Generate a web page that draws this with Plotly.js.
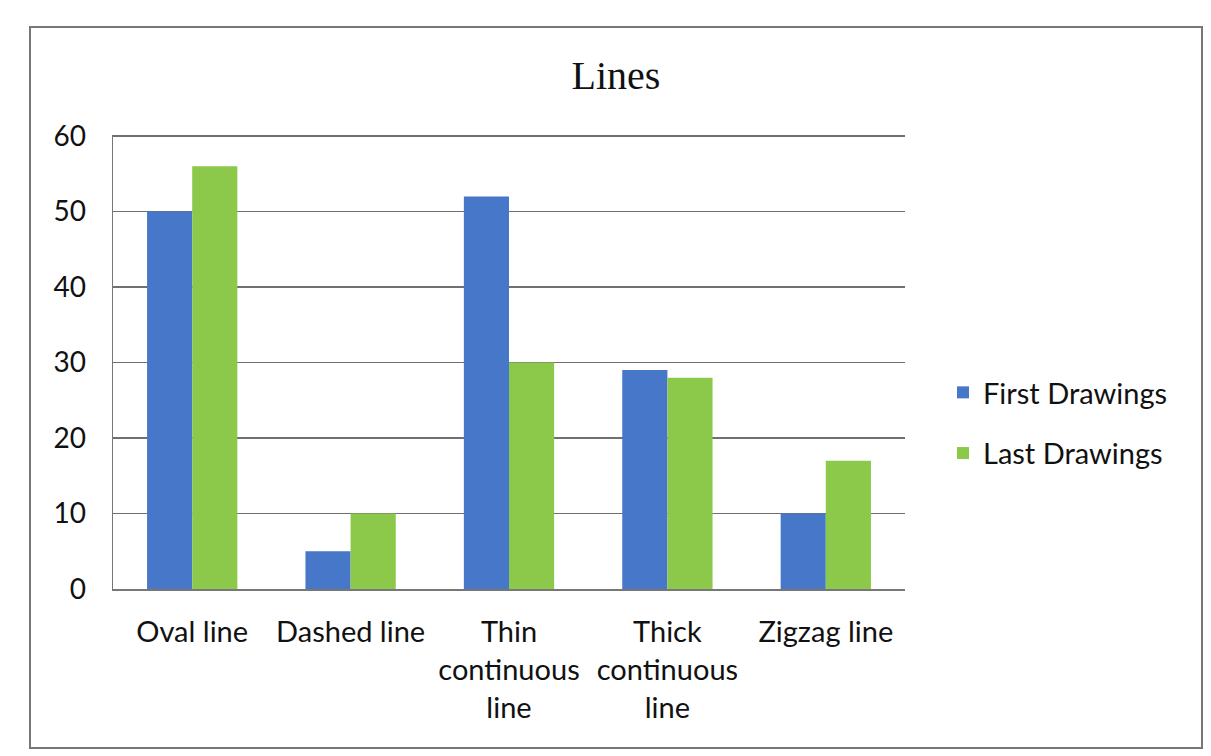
<!DOCTYPE html>
<html>
<head>
<meta charset="utf-8">
<script src="https://cdn.plot.ly/plotly-3.0.1.min.js"></script>
<style>html,body{margin:0;padding:0;background:#fff;}#chart{width:1211px;height:756px;}</style>
</head>
<body>
<div id="chart"></div>
<script>
const categories = ["Oval line", "Dashed line", "Thin<br>continuous<br>line", "Thick<br>continuous<br>line", "Zigzag line"];
const firstDrawings = [50, 5, 52, 29, 10];
const lastDrawings = [56, 10, 30, 28, 17];
const seriesNames = ["First Drawings", "Last Drawings"];
const yTicks = [0, 10, 20, 30, 40, 50, 60];

const W = 1211, H = 756;
const L = 113, R = 905, T = 135, B = 589;
const pw = R - L, ph = B - T;
const px = v => (v - L) / pw;
const py = v => (B - v) / ph;

const font = "Lato, 'Open Sans', 'DejaVu Sans', sans-serif";

const traces = [
  {type: 'bar', x: categories, y: firstDrawings, name: seriesNames[0], legendgroup: 'a',
   marker: {color: '#4677c8'}},
  {type: 'bar', x: categories, y: lastDrawings, name: seriesNames[1], legendgroup: 'b',
   marker: {color: '#8cc84a'}}
];

const layout = {
  width: W, height: H,
  margin: {l: L, r: W - R, t: T, b: H - B},
  paper_bgcolor: '#fff', plot_bgcolor: '#fff',
  barmode: 'group', bargap: 0.43, bargroupgap: 0,
  showlegend: true,
  font: {family: font, color: '#111', size: 29},
  title: {text: 'Lines', font: {family: "'Liberation Serif', 'Times New Roman', serif", size: 40, color: '#111'},
          xref: 'paper', x: px(616), xanchor: 'center', yref: 'container', y: 1 - 75 / H, yanchor: 'middle'},
  xaxis: {type: 'category', showgrid: false, showline: true, linecolor: '#777', linewidth: 1.5,
          ticks: '', tickfont: {family: font, size: 29, color: '#111'}, ticklabelstandoff: 17},
  yaxis: {range: [0, 60.15], tickvals: yTicks, showgrid: true, gridcolor: '#707070', gridwidth: 1.5,
          showline: true, linecolor: '#777', linewidth: 1.5, zeroline: false, ticks: '',
          tickfont: {family: font, size: 28, color: '#111'}, ticklabelstandoff: 20},
  legend: {x: px(943), xanchor: 'left', y: py(423), yanchor: 'middle', traceorder: 'grouped',
           tracegroupgap: 20, font: {family: font, size: 29, color: '#111'}, itemwidth: 30,
           bgcolor: 'rgba(0,0,0,0)'},
  shapes: [{type: 'rect', xref: 'paper', yref: 'paper', x0: px(30), x1: px(1202), y0: py(748), y1: py(27),
            line: {color: '#777', width: 2}, fillcolor: 'rgba(0,0,0,0)', layer: 'below'}]
};

Plotly.newPlot('chart', traces, layout, {displayModeBar: false, staticPlot: true});
</script>
</body>
</html>
